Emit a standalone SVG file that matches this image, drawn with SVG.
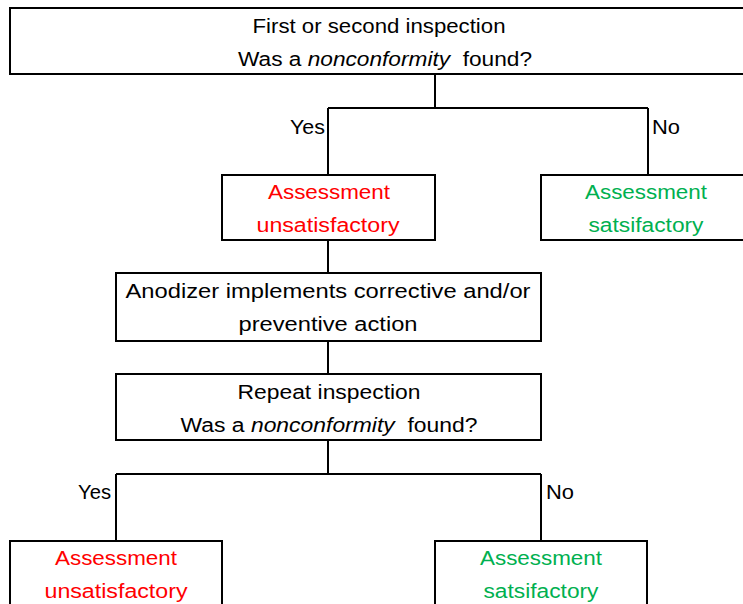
<svg xmlns="http://www.w3.org/2000/svg" width="743" height="604" viewBox="0 0 743 604">
<style>
.box{fill:#fff;stroke:#000;stroke-width:2}
.ln{fill:none;stroke:#000;stroke-width:2}
text{font-family:"Liberation Sans",Arial,sans-serif;font-size:20px;fill:#000}
.c{text-anchor:middle}
.red{fill:#ff0000}
.grn{fill:#00b050}
</style>
<rect width="743" height="604" fill="#fff"/>
<g id="connectors">
<path class="ln" d="M435,74V108M328,108H648M328,108V175M648,108V175"/>
<path class="ln" d="M328,240V273M328,341V374M328,440V474M116,474H541M116,474V541M541,474V541"/>
</g>
<g id="labels">
<text x="290" y="134" textLength="35" lengthAdjust="spacingAndGlyphs">Yes</text>
<text x="652" y="134" textLength="28" lengthAdjust="spacingAndGlyphs">No</text>
<text x="78" y="499" textLength="33" lengthAdjust="spacingAndGlyphs">Yes</text>
<text x="546" y="499" textLength="28" lengthAdjust="spacingAndGlyphs">No</text>
</g>
<g id="n1">
<rect class="box" x="10" y="8" width="745" height="66"/>
<text class="c" x="379" y="33" textLength="253" lengthAdjust="spacingAndGlyphs">First or second inspection</text>
<text class="c" x="385" y="66" textLength="294" lengthAdjust="spacingAndGlyphs" xml:space="preserve">Was a <tspan font-style="italic">nonconformity</tspan>  found?</text>
</g>
<g id="n2">
<rect class="box" x="222" y="175" width="213" height="65"/>
<text class="c red" x="329" y="199" textLength="122" lengthAdjust="spacingAndGlyphs">Assessment</text>
<text class="c red" x="328" y="232" textLength="143" lengthAdjust="spacingAndGlyphs">unsatisfactory</text>
</g>
<g id="n3">
<rect class="box" x="541" y="175" width="214" height="65"/>
<text class="c grn" x="646" y="199" textLength="122" lengthAdjust="spacingAndGlyphs">Assessment</text>
<text class="c grn" x="646" y="232" textLength="115" lengthAdjust="spacingAndGlyphs">satsifactory</text>
</g>
<g id="n4">
<rect class="box" x="116" y="273" width="425" height="68"/>
<text class="c" x="328" y="298" textLength="405" lengthAdjust="spacingAndGlyphs">Anodizer implements corrective and/or</text>
<text class="c" x="328" y="331" textLength="179" lengthAdjust="spacingAndGlyphs">preventive action</text>
</g>
<g id="n5">
<rect class="box" x="116" y="374" width="425" height="66"/>
<text class="c" x="329" y="399" textLength="183" lengthAdjust="spacingAndGlyphs">Repeat inspection</text>
<text class="c" x="329" y="432" textLength="297" lengthAdjust="spacingAndGlyphs" xml:space="preserve">Was a <tspan font-style="italic">nonconformity</tspan>  found?</text>
</g>
<g id="n6">
<rect class="box" x="10" y="541" width="212" height="80"/>
<text class="c red" x="116" y="565" textLength="122" lengthAdjust="spacingAndGlyphs">Assessment</text>
<text class="c red" x="116" y="598" textLength="143" lengthAdjust="spacingAndGlyphs">unsatisfactory</text>
</g>
<g id="n7">
<rect class="box" x="435" y="541" width="212" height="80"/>
<text class="c grn" x="541" y="565" textLength="122" lengthAdjust="spacingAndGlyphs">Assessment</text>
<text class="c grn" x="541" y="598" textLength="115" lengthAdjust="spacingAndGlyphs">satsifactory</text>
</g>
</svg>
